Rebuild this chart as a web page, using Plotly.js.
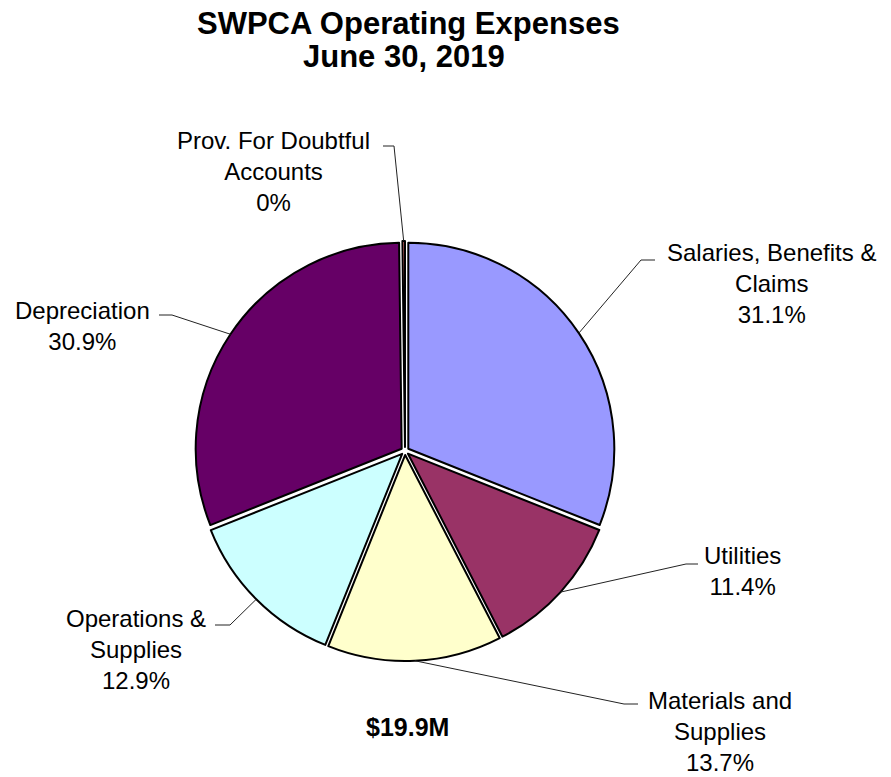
<!DOCTYPE html>
<html>
<head>
<meta charset="utf-8">
<script src="https://cdn.plot.ly/plotly-3.0.1.min.js"></script>
<style>html,body{margin:0;padding:0;background:#fff;}#chart{width:891px;height:777px;}</style>
</head>
<body>
<div id="chart"></div>
<script>
// ---- data ----
const categories = ['Salaries, Benefits &<br>Claims', 'Utilities', 'Materials and<br>Supplies', 'Operations &<br>Supplies', 'Depreciation', 'Prov. For Doubtful<br>Accounts'];
const values = [31.1, 11.4, 13.7, 12.9, 30.9, 0.2];
const pctLabels = ['31.1%', '11.4%', '13.7%', '12.9%', '30.9%', '0%'];
const colors = ['#9999FF', '#993366', '#FFFFCC', '#CCFFFF', '#660066', '#FF8080'];
const titleLines = ['SWPCA Operating Expenses', 'June 30, 2019'];
const totalLabel = '$19.9M';

// ---- layout constants (pixels) ----
const W = 891, H = 777;
const CX = 405, CY = 451, R = 206, PULL = 0.0194;
const labelPos = [[771, 283], [742, 571], [720, 731], [136, 649], [82, 326], [273, 171]];
const leaderStart = [[655, 260], [698, 564], [638, 704], [215, 625], [159, 315], [383, 146]];
const leaderElbow = [[641, 260], [686, 564], [624, 704], [230, 625], [172, 315], [394, 146]];

const px = x => x / W;
const py = y => 1 - y / H;
const FONT = 'Liberation Sans, Arial, sans-serif';

const half = R * (1 + PULL);
const trace = {
  type: 'pie',
  values: values,
  labels: categories,
  sort: false,
  direction: 'clockwise',
  rotation: 0,
  pull: values.map(() => PULL),
  marker: {colors: colors, line: {color: '#000', width: 2}},
  textinfo: 'none',
  hoverinfo: 'skip',
  showlegend: false,
  automargin: false,
  domain: {x: [(CX - half) / W, (CX + half) / W], y: [1 - (CY + half) / H, 1 - (CY - half) / H]}
};

const total = values.reduce((a, b) => a + b, 0);
const annotations = [];
const shapes = [];
let cum = 0;
values.forEach((v, i) => {
  const mid = (cum + v / 2) / total * 2 * Math.PI;
  cum += v;
  const ex = CX + half * Math.sin(mid);
  const ey = CY - half * Math.cos(mid);
  const s = leaderStart[i], e = leaderElbow[i];
  shapes.push({
    type: 'path', xref: 'paper', yref: 'paper',
    path: `M ${px(s[0])} ${py(s[1])} L ${px(e[0])} ${py(e[1])} L ${px(ex)} ${py(ey)}`,
    line: {color: '#222', width: 1}
  });
  annotations.push({
    xref: 'paper', yref: 'paper', x: px(labelPos[i][0]), y: py(labelPos[i][1]),
    xanchor: 'center', yanchor: 'middle', showarrow: false, align: 'center',
    text: categories[i] + '<br>' + pctLabels[i],
    font: {family: FONT, size: 24, color: '#000'}
  });
});

annotations.push({
  xref: 'paper', yref: 'paper', x: px(408), y: py(23), xanchor: 'center', yanchor: 'middle',
  showarrow: false, text: '<b>' + titleLines[0] + '</b>', font: {family: FONT, size: 31, color: '#000'}
});
annotations.push({
  xref: 'paper', yref: 'paper', x: px(404), y: py(57), xanchor: 'center', yanchor: 'middle',
  showarrow: false, text: '<b>' + titleLines[1] + '</b>', font: {family: FONT, size: 31, color: '#000'}
});
annotations.push({
  xref: 'paper', yref: 'paper', x: px(407), y: py(727), xanchor: 'center', yanchor: 'middle',
  showarrow: false, text: '<b>' + totalLabel + '</b>', font: {family: FONT, size: 25, color: '#000'}
});

const layout = {
  width: W, height: H,
  margin: {l: 0, r: 0, t: 0, b: 0},
  paper_bgcolor: '#fff', plot_bgcolor: '#fff',
  showlegend: false,
  annotations: annotations,
  shapes: shapes
};

Plotly.newPlot('chart', [trace], layout, {displayModeBar: false, staticPlot: true});
</script>
</body>
</html>
